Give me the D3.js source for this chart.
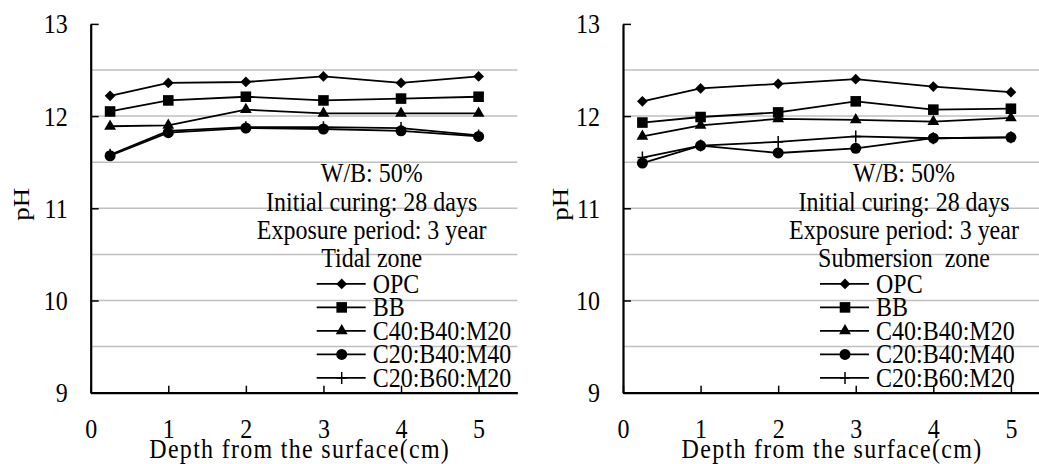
<!DOCTYPE html>
<html>
<head>
<meta charset="utf-8">
<script src="https://cdn.jsdelivr.net/npm/d3@7"></script>
<style>
  body { margin: 0; background: #fff; }
  svg { display: block; font-family: 'Liberation Serif', 'Times New Roman', serif; }
</style>
</head>
<body>
<div id="chart"></div>
<script>
  // depth (cm) at which pH was measured
  const depths = [0.25, 1, 2, 3, 4, 5];
  const seriesNames = ['OPC', 'BB', 'C40:B40:M20', 'C20:B40:M40', 'C20:B60:M20'];
  const markerTypes = ['diamond', 'square', 'triangle', 'circle', 'plus'];

  // tidal zone
  const tidalOPC = [12.22, 12.36, 12.37, 12.43, 12.36, 12.43];
  const tidalBB = [12.05, 12.17, 12.21, 12.17, 12.19, 12.21];
  const tidalC40B40M20 = [11.89, 11.90, 12.07, 12.03, 12.03, 12.03];
  const tidalC20B40M40 = [11.57, 11.82, 11.87, 11.86, 11.84, 11.78];
  const tidalC20B60M20 = [11.58, 11.84, 11.88, 11.88, 11.87, 11.79];

  // submersion zone
  const subOPC = [12.16, 12.30, 12.35, 12.40, 12.32, 12.26];
  const subBB = [11.93, 11.99, 12.04, 12.16, 12.07, 12.08];
  const subC40B40M20 = [11.78, 11.90, 11.97, 11.96, 11.94, 11.98];
  const subC20B40M40 = [11.49, 11.68, 11.60, 11.65, 11.76, 11.77];
  const subC20B60M20 = [11.55, 11.68, 11.72, 11.78, 11.76, 11.77];

  const xTicks = [0, 1, 2, 3, 4, 5];
  const yTicks = [9, 10, 11, 12, 13];
  const yGrid = [9.5, 10, 10.5, 11, 11.5, 12, 12.5];

  const tidalNotes = ['W/B: 50%', 'Initial curing: 28 days', 'Exposure period: 3 year', 'Tidal zone'];
  const subNotes = ['W/B: 50%', 'Initial curing: 28 days', 'Exposure period: 3 year', 'Submersion  zone'];

  const W = 1039, H = 464;
  const FONT = 24;
  const STRETCH = 1.12; // text in the source is a little taller than wide
  const plotW = 426.7, plotH = 368.8;

  const panels = [
    {left: 90.7, top: 23.9, notes: tidalNotes, legendX: 226, ylabelX: -70,
      series: [tidalOPC, tidalBB, tidalC40B40M20, tidalC20B40M40, tidalC20B60M20]},
    {left: 623, top: 23.9, notes: subNotes, legendX: 197, ylabelX: -63,
      series: [subOPC, subBB, subC40B40M20, subC20B40M40, subC20B60M20]}
  ];

  const svg = d3.select('#chart').append('svg')
    .attr('width', W)
    .attr('height', H);

  const x = d3.scaleLinear().domain([0, 5.5]).range([0, plotW]);
  const y = d3.scaleLinear().domain([9, 13]).range([plotH, 0]);

  function addText(parent, tx, ty, str, anchor) {
    return parent.append('text')
      .attr('transform', `translate(${tx},${ty}) scale(1,${STRETCH})`)
      .attr('text-anchor', anchor || 'start')
      .attr('font-size', FONT)
      .style('white-space', 'pre')
      .text(str);
  }

  function drawMarker(g, type) {
    if (type === 'plus') {
      g.append('path')
        .attr('d', 'M-5,0H5M0,-6V6')
        .attr('stroke', '#000')
        .attr('stroke-width', 1.5)
        .attr('fill', 'none');
      return;
    }
    const sym = {
      diamond: d3.symbol(d3.symbolSquare, 58),
      square: d3.symbol(d3.symbolSquare, 112),
      triangle: d3.symbol(d3.symbolTriangle, 60),
      circle: d3.symbol(d3.symbolCircle, 95)
    }[type];
    g.append('path')
      .attr('d', sym())
      .attr('transform', type === 'diamond' ? 'rotate(45)' : null)
      .attr('fill', '#000');
  }

  panels.forEach((p) => {
    const g = svg.append('g').attr('transform', `translate(${p.left},${p.top})`);

    // grid
    g.append('g')
      .selectAll('line')
      .data(yGrid)
      .join('line')
      .attr('x1', 0)
      .attr('x2', plotW)
      .attr('y1', (d) => y(d))
      .attr('y2', (d) => y(d))
      .attr('stroke', '#bfbfbf')
      .attr('stroke-width', 1.5);

    // x axis, ticks pointing inside
    const xAxis = g.append('g')
      .attr('transform', `translate(0,${plotH})`)
      .call(d3.axisBottom(x).tickValues(xTicks).tickFormat(d3.format('d'))
        .tickSizeInner(-7).tickSizeOuter(0).tickPadding(0));
    xAxis.attr('font-family', null).attr('font-size', FONT);
    xAxis.select('.domain').attr('stroke-width', 2.2);
    xAxis.selectAll('.tick line').attr('stroke-width', 1.5);
    xAxis.selectAll('.tick text')
      .attr('y', null)
      .attr('dy', null)
      .attr('transform', `translate(0,45) scale(1,${STRETCH})`);

    // y axis
    const yAxis = g.append('g')
      .call(d3.axisLeft(y).tickValues(yTicks).tickFormat(d3.format('d'))
        .tickSizeInner(-8).tickSizeOuter(0).tickPadding(23));
    yAxis.attr('font-family', null).attr('font-size', FONT);
    yAxis.select('.domain').attr('stroke-width', 2.2);
    yAxis.selectAll('.tick line').attr('stroke-width', 1.5);
    yAxis.selectAll('.tick text')
      .attr('dy', null)
      .attr('y', null)
      .attr('transform', `translate(0,9) scale(1,${STRETCH})`);

    // axis titles
    addText(g, 209, 458 - p.top, 'Depth from the surface(cm)', 'middle')
      .attr('letter-spacing', 1.3);

    g.append('text')
      .attr('transform', `translate(${p.ylabelX},${plotH / 2 - 4}) rotate(-90) scale(${STRETCH},1)`)
      .attr('text-anchor', 'middle')
      .attr('dy', '0.35em')
      .attr('font-size', FONT)
      .text('pH');

    // series
    const line = d3.line()
      .x((d, i) => x(depths[i]))
      .y((d) => y(d));

    p.series.forEach((vals, si) => {
      g.append('path')
        .attr('d', line(vals))
        .attr('fill', 'none')
        .attr('stroke', '#000')
        .attr('stroke-width', 1.8);
      vals.forEach((v, i) => {
        const m = g.append('g').attr('transform', `translate(${x(depths[i])},${y(v)})`);
        drawMarker(m, markerTypes[si]);
      });
    });

    // notes
    p.notes.forEach((d, i) => {
      addText(g, 281, 149.5 + i * 28.1 + 9, d, 'middle');
    });

    // legend
    const legend = g.append('g').attr('transform', `translate(${p.legendX},0)`);
    seriesNames.forEach((name, si) => {
      const ly = 260 + si * 23.5;
      const row = legend.append('g').attr('transform', `translate(0,${ly})`);
      row.append('line')
        .attr('x1', 0)
        .attr('x2', 49)
        .attr('stroke', '#000')
        .attr('stroke-width', 1.8);
      drawMarker(row.append('g').attr('transform', 'translate(25,0)'), markerTypes[si]);
      addText(row, 56, 9, name);
    });
  });
</script>
</body>
</html>
